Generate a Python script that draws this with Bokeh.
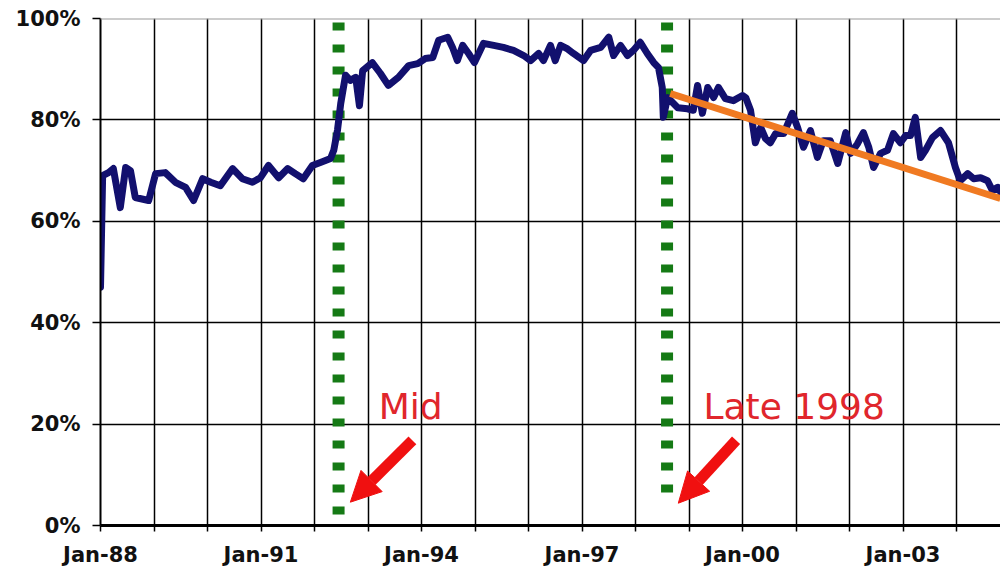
from bokeh.plotting import figure
from bokeh.models import FixedTicker, Span, Arrow, NormalHead, Range1d
from bokeh.core.properties import value
from bokeh.embed import file_html
from bokeh.resources import INLINE

# ---- data ----
years = [1988.00, 1988.04, 1988.15, 1988.24, 1988.37, 1988.47, 1988.56, 1988.65, 1988.90,
         1989.03, 1989.21, 1989.40, 1989.59, 1989.74, 1989.91, 1990.06, 1990.24, 1990.47,
         1990.65, 1990.84, 1990.99, 1991.14, 1991.33, 1991.50, 1991.64, 1991.79, 1991.96,
         1992.11, 1992.30, 1992.36, 1992.43, 1992.49, 1992.58, 1992.67, 1992.77, 1992.84,
         1992.90, 1993.08, 1993.23, 1993.38, 1993.57, 1993.76, 1993.93, 1994.07, 1994.21,
         1994.32, 1994.49, 1994.58, 1994.67, 1994.77, 1994.88, 1994.99, 1995.16, 1995.35,
         1995.53, 1995.72, 1995.91, 1996.04, 1996.19, 1996.28, 1996.41, 1996.50, 1996.60,
         1996.73, 1996.84, 1997.03, 1997.16, 1997.35, 1997.50, 1997.59, 1997.72, 1997.85,
         1997.96, 1998.09, 1998.22, 1998.34, 1998.43, 1998.50, 1998.52, 1998.60, 1998.79,
         1998.97, 1999.08, 1999.16, 1999.25, 1999.35, 1999.46, 1999.55, 1999.68, 1999.83,
         2000.00, 2000.06, 2000.15, 2000.24, 2000.34, 2000.43, 2000.52, 2000.62, 2000.77,
         2000.93, 2001.03, 2001.14, 2001.27, 2001.40, 2001.51, 2001.64, 2001.78, 2001.93,
         2002.02, 2002.15, 2002.26, 2002.36, 2002.45, 2002.58, 2002.71, 2002.82, 2002.95,
         2003.05, 2003.14, 2003.23, 2003.33, 2003.42, 2003.55, 2003.70, 2003.85, 2003.98,
         2004.07, 2004.21, 2004.32, 2004.45, 2004.58, 2004.67, 2004.77, 2004.84]
share = [47.0, 69.0, 69.6, 70.4, 62.7, 70.6, 70.0, 64.7, 64.1,
         69.4, 69.6, 67.7, 66.7, 64.1, 68.4, 67.7, 67.0, 70.4,
         68.4, 67.7, 68.6, 71.0, 68.6, 70.4, 69.4, 68.4, 71.0,
         71.6, 72.4, 74.0, 78.0, 83.2, 88.8, 87.8, 88.4, 82.8,
         89.7, 91.3, 89.2, 86.8, 88.4, 90.7, 91.1, 92.1, 92.3,
         95.7, 96.3, 94.3, 91.7, 94.7, 93.1, 91.3, 95.1, 94.7,
         94.3, 93.7, 92.7, 91.7, 93.1, 91.7, 94.7, 91.7, 94.7,
         94.0, 93.1, 91.7, 93.7, 94.3, 96.3, 92.7, 94.7, 92.7,
         93.7, 95.3, 93.1, 91.3, 90.3, 86.4, 80.5, 84.4, 82.4,
         82.2, 81.9, 86.8, 81.3, 86.4, 84.4, 86.4, 84.2, 83.8,
         84.8, 84.4, 81.9, 75.5, 78.5, 76.3, 75.5, 77.3, 77.3,
         81.3, 78.5, 74.6, 77.9, 72.6, 75.9, 75.9, 71.4, 77.5,
         73.4, 75.3, 77.5, 74.6, 70.6, 73.4, 74.0, 77.3, 75.5,
         76.9, 76.9, 80.5, 72.6, 74.0, 76.5, 77.9, 75.5, 70.6,
         68.0, 69.4, 68.4, 68.6, 68.0, 66.1, 66.7, 65.5]

trend_years = [1998.65, 2004.82]
trend_share = [85.2, 64.5]

event_years = [1992.45, 1998.59]
event_top = [99.2, 99.2]
event_bottom = [1.6, 5.3]

note_texts = ["Mid", "Late 1998"]
note_x = [1993.20, 1999.27]
note_y = [23.5, 23.5]
arrow_tail_x = [1993.83, 1999.88]
arrow_tail_y = [16.8, 16.8]
arrow_tip_x = [1992.67, 1998.80]
arrow_tip_y = [4.6, 4.4]

x_ticks = list(range(1988, 2005))
x_tick_labels = {1988: "Jan-88", 1991: "Jan-91", 1994: "Jan-94",
                 1997: "Jan-97", 2000: "Jan-00", 2003: "Jan-03"}
y_ticks = [0, 20, 40, 60, 80, 100]
y_tick_labels = ["0%", "20%", "40%", "60%", "80%", "100%"]

# ---- figure ----
W, H = 1000, 570
left, top, bottom = 100, 18, 45
plot_w = W - left
x_end = 1988 + plot_w / 53.5

p = figure(width=W, height=H, output_backend="svg", toolbar_location=None,
           x_range=Range1d(1988, x_end), y_range=Range1d(0, 100),
           min_border_left=left, min_border_right=0, min_border_top=top,
           min_border_bottom=bottom, background_fill_color="white",
           border_fill_color="white")
p.outline_line_color = None

# axes
p.xaxis.ticker = FixedTicker(ticks=x_ticks)
p.xaxis.major_label_overrides = {t: x_tick_labels.get(t, "") for t in x_ticks}
p.yaxis.ticker = FixedTicker(ticks=y_ticks)
p.yaxis.major_label_overrides = {t: l for t, l in zip(y_ticks, y_tick_labels)}
for ax in (p.xaxis, p.yaxis):
    ax.major_label_text_font = "DejaVu Sans"
    ax.major_label_text_font_style = "bold"
    ax.major_label_text_color = "#111111"
    ax.minor_tick_line_color = None
    ax.major_tick_in = 0
    ax.axis_line_color = "black"
    ax.major_tick_line_color = "black"
p.xaxis.major_label_text_font_size = "21px"
p.yaxis.major_label_text_font_size = "21px"
p.xaxis.major_tick_out = 6
p.xaxis.major_label_standoff = 11
p.xaxis.axis_line_width = 3
p.xaxis.major_tick_line_width = 1.5
p.yaxis.major_tick_out = 8
p.yaxis.major_label_standoff = 12
p.yaxis.axis_line_width = 2
p.yaxis.major_tick_line_width = 1.5

# grid
p.xgrid.grid_line_color = "black"
p.xgrid.grid_line_width = 1.5
p.ygrid.grid_line_color = "black"
p.ygrid.grid_line_width = 1.5
p.add_layout(Span(location=100, dimension="width", line_color="#9a9a9a", line_width=2))

# event lines (green dotted)
p.segment(x0=event_years, y0=event_top, x1=event_years, y1=event_bottom,
          line_color="#157a15", line_width=12, line_dash="8 14")

# main series
p.line(years, share, line_color="#12106e", line_width=7, line_join="round", line_cap="round")

# trend line
p.line(trend_years, trend_share, line_color="#f07a22", line_width=7)

# arrows and notes
for tx, ty, hx, hy in zip(arrow_tail_x, arrow_tail_y, arrow_tip_x, arrow_tip_y):
    p.add_layout(Arrow(end=NormalHead(size=30, fill_color="#f01010", line_color="#f01010"),
                       x_start=tx, y_start=ty, x_end=hx, y_end=hy,
                       line_color="#f01010", line_width=11))
p.text(x=note_x, y=note_y, text=note_texts, text_color="#e0262c",
       text_font=value("DejaVu Sans"), text_font_size="36px",
       text_align="left", text_baseline="middle")

open("out.html", "w").write(file_html(p, INLINE))
